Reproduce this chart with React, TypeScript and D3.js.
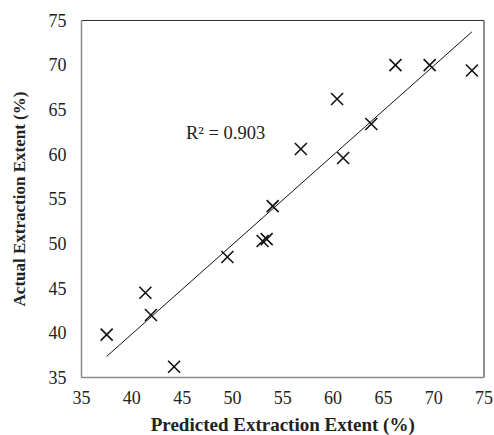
import React from 'react';
import * as d3 from 'd3';

// values
const predicted = [37.5, 41.35, 41.9, 44.2, 49.5, 53.0, 53.4, 54.0, 56.8, 61.0, 60.4, 63.8, 66.2, 69.6, 73.8];
const actual = [39.8, 44.5, 42.0, 36.2, 48.5, 50.3, 50.5, 54.2, 60.6, 59.6, 66.2, 63.4, 70.0, 70.0, 69.4];
const trendX = [37.5, 73.8];
const trendY = [37.36, 73.73];
const xTicks = [35, 40, 45, 50, 55, 60, 65, 70, 75];
const yTicks = [35, 40, 45, 50, 55, 60, 65, 70, 75];
const r2Label = 'R² = 0.903';

const width = 494;
const height = 435;
const marginLeft = 81.5;
const marginRight = 10;
const marginTop = 20.5;
const marginBottom = 57.5;

const font = '"Liberation Serif", "Times New Roman", serif';

export default function App() {
  const x = d3.scaleLinear([35, 75], [marginLeft, width - marginRight]);
  const y = d3.scaleLinear([35, 75], [height - marginBottom, marginTop]);
  const line = d3.line<number>()
    .x((d) => x(d))
    .y((_, i) => y(trendY[i]));
  const s = 6;

  return (
    <svg width={width} height={height} style={{ position: 'absolute', left: 0, top: 0, background: '#fff' }}>
      {/* frame: left/bottom grey, top/right dark */}
      <line x1={x(35)} x2={x(75)} y1={y(75)} y2={y(75)} stroke="#333" strokeWidth={1.2} />
      <line x1={x(75)} x2={x(75)} y1={y(75)} y2={y(35)} stroke="#444" strokeWidth={1.2} />
      <line x1={x(35)} x2={x(35)} y1={y(75)} y2={y(35)} stroke="#8a8a8a" strokeWidth={1.5} />
      <line x1={x(35)} x2={x(75)} y1={y(35)} y2={y(35)} stroke="#8a8a8a" strokeWidth={1.5} />

      {yTicks.map((t) => (
        <text key={'y' + t} x={x(35) - 15} y={y(t)} dy="0.35em" textAnchor="end"
          fontFamily={font} fontSize={18} fill="#222">{t}</text>
      ))}
      {xTicks.map((t) => (
        <text key={'x' + t} x={x(t)} y={y(35) + 26} textAnchor="middle"
          fontFamily={font} fontSize={18} fill="#222">{t}</text>
      ))}

      <path d={line(trendX) || ''} fill="none" stroke="#111" strokeWidth={1} />

      {predicted.map((p, i) => {
        const cx = x(p);
        const cy = y(actual[i]);
        return (
          <path key={i} d={`M${cx - s},${cy - s}L${cx + s},${cy + s}M${cx - s},${cy + s}L${cx + s},${cy - s}`}
            stroke="#111" strokeWidth={1.6} fill="none" />
        );
      })}

      <text x={186} y={139} fontFamily={font} fontSize={18.5} fill="#222">{r2Label}</text>

      <text x={(x(35) + x(75)) / 2} y={431} textAnchor="middle" fontFamily={font}
        fontSize={19} fontWeight="bold" fill="#222">Predicted Extraction Extent (%)</text>
      <text transform={`translate(25,${(y(35) + y(75)) / 2}) rotate(-90)`} textAnchor="middle"
        fontFamily={font} fontSize={17} fontWeight="bold" fill="#222">Actual Extraction Extent (%)</text>
    </svg>
  );
}
